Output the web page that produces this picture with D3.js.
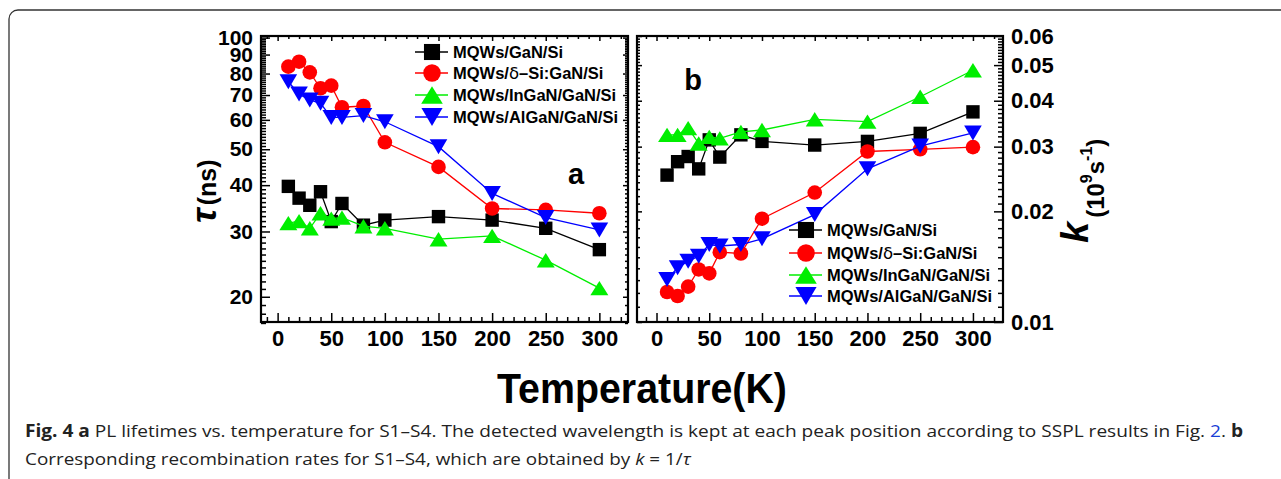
<!DOCTYPE html>
<html><head><meta charset="utf-8">
<script src="https://cdn.jsdelivr.net/npm/d3@7"></script>
<style>html,body{margin:0;padding:0;background:#fff;}svg{display:block;}</style>
</head><body>
<svg id="chart" width="1281" height="479"></svg>
<script>
// ---- data ----
const temps = [10, 20, 30, 40, 50, 60, 80, 100, 150, 200, 250, 300];
const seriesNames = ["MQWs/GaN/Si", "MQWs/δ–Si:GaN/Si", "MQWs/InGaN/GaN/Si", "MQWs/AlGaN/GaN/Si"];
const tauGaN    = [39.7, 36.9, 35.3, 38.4, 31.9, 35.7, 31.2, 32.2, 32.9, 32.2, 30.6, 26.8];
const tauDeltaSi= [83.5, 86.1, 80.6, 73.0, 74.2, 64.9, 65.4, 52.2, 44.8, 34.6, 34.3, 33.6];
const tauInGaN  = [31.6, 32.0, 30.6, 33.6, 32.5, 32.7, 31.0, 30.6, 28.6, 29.2, 25.1, 21.1];
const tauAlGaN  = [76.0, 70.4, 67.9, 66.5, 60.9, 60.9, 61.6, 59.3, 50.8, 38.0, 32.7, 30.3];
const kGaN      = [0.0251, 0.0273, 0.0282, 0.0261, 0.0313, 0.0281, 0.0323, 0.0310, 0.0303, 0.0310, 0.0326, 0.0373];
const kDeltaSi  = [0.01207, 0.01177, 0.01248, 0.0139, 0.01356, 0.01549, 0.01536, 0.0191, 0.0225, 0.0291, 0.0295, 0.0299];
const kInGaN    = [0.0323, 0.0323, 0.0337, 0.0306, 0.0319, 0.0316, 0.0329, 0.0333, 0.0356, 0.0351, 0.0410, 0.0484];
const kAlGaN    = [0.01306, 0.01405, 0.01464, 0.0151, 0.01625, 0.0161, 0.01625, 0.01684, 0.0196, 0.0261, 0.0301, 0.0327];
const xTickLabels = [0, 50, 100, 150, 200, 250, 300];
const tauTickLabels = [20, 30, 40, 50, 60, 70, 80, 90, 100];
const kTickLabels = [0.01, 0.02, 0.03, 0.04, 0.05, 0.06];

// ---- styles ----
const colors = ["#000000", "#ff0000", "#00ee00", "#0000ff"];
const shapes = ["square", "circle", "triangle", "invtriangle"];
const FONT = "'Liberation Sans', Arial, sans-serif";

const svg = d3.select("#chart");
svg.append("rect").attr("width", 1281).attr("height", 479).attr("fill", "#fff");
svg.append("rect").attr("x", 9).attr("y", 10).attr("width", 1300).attr("height", 520)
  .attr("rx", 9).attr("fill", "none").attr("stroke", "#333").attr("stroke-width", 1.3);

function markerPath(shape, s) {
  if (shape === "square") { const h = 6.7 * s; return `M${-h},${-h}H${h}V${h}H${-h}Z`; }
  if (shape === "circle") { return d3.symbol(d3.symbolCircle, Math.PI * (7.3 * s) ** 2)(); }
  if (shape === "triangle") { const w = 9 * s, h = 7.2 * s; return `M0,${-h}L${w},${h}L${-w},${h}Z`; }
  const w = 8.8 * s, h = 7.5 * s; return `M0,${h}L${w},${-h}L${-w},${-h}Z`;
}

function panel(x, y, ySide, yMajor, yMinor, yFmt, yFont) {
  const g = svg.append("g");
  const [x0, x1] = x.range(); const [y0, y1] = y.range();
  const xMinor = d3.range(-10, 330, 10).filter(v => v % 50 !== 0 && v >= x.domain()[0] && v <= x.domain()[1]);
  g.append("g").attr("transform", `translate(0,${y0})`)
    .call(d3.axisBottom(x).tickValues(xMinor).tickSize(-5).tickFormat(""));
  g.append("g").attr("transform", `translate(0,${y0})`)
    .call(d3.axisBottom(x).tickValues(xTickLabels).tickSize(-9).tickPadding(8).tickFormat(d3.format("d")))
    .call(a => a.selectAll("text").attr("font-size", 22).attr("font-weight", "bold").attr("font-family", FONT).attr("fill", "#000"));
  g.append("g").attr("transform", `translate(0,${y1})`)
    .call(d3.axisTop(x).tickValues(xMinor).tickSize(-3).tickFormat(""));
  g.append("g").attr("transform", `translate(0,${y1})`)
    .call(d3.axisTop(x).tickValues(xTickLabels).tickSize(-5).tickFormat(""));
  const main = ySide === "left" ? x0 : x1, mirror = ySide === "left" ? x1 : x0;
  const axMain = ySide === "left" ? d3.axisLeft : d3.axisRight;
  const axMirror = ySide === "left" ? d3.axisRight : d3.axisLeft;
  g.append("g").attr("transform", `translate(${main},0)`)
    .call(axMain(y).tickValues(yMinor).tickSize(-5).tickFormat(""));
  g.append("g").attr("transform", `translate(${main},0)`)
    .call(axMain(y).tickValues(yMajor).tickSize(-9).tickPadding(8).tickFormat(yFmt))
    .call(a => a.selectAll("text").attr("font-size", yFont).attr("font-weight", "bold").attr("font-family", FONT).attr("fill", "#000"));
  g.append("g").attr("transform", `translate(${mirror},0)`)
    .call(axMirror(y).tickValues(yMinor).tickSize(-3).tickFormat(""));
  g.append("g").attr("transform", `translate(${mirror},0)`)
    .call(axMirror(y).tickValues(yMajor).tickSize(-5).tickFormat(""));
  g.selectAll(".domain").remove();
  g.selectAll(".tick line").attr("stroke", "#000").attr("stroke-width", 1.5);
  g.append("rect").attr("x", x0).attr("y", y1).attr("width", x1 - x0).attr("height", y0 - y1)
    .attr("fill", "none").attr("stroke", "#000").attr("stroke-width", 2.2);
  return g;
}

function drawSeries(g, x, y, valuesList) {
  const line = d3.line().x(d => x(d[0])).y(d => y(d[1]));
  valuesList.forEach((vals, i) => {
    const pts = temps.map((t, j) => [t, vals[j]]);
    g.append("path").attr("d", line(pts)).attr("fill", "none").attr("stroke", colors[i]).attr("stroke-width", 1.3);
    g.selectAll(null).data(pts).enter().append("path")
      .attr("d", markerPath(shapes[i], 1))
      .attr("transform", d => `translate(${x(d[0])},${y(d[1])})`)
      .attr("fill", colors[i]);
  });
}

function legend(g, lx, rows) {
  seriesNames.forEach((name, i) => {
    const yy = rows[i];
    g.append("line").attr("x1", lx).attr("x2", lx + 33).attr("y1", yy).attr("y2", yy)
      .attr("stroke", colors[i]).attr("stroke-width", 1.3);
    g.append("path").attr("d", markerPath(shapes[i], 1.2)).attr("transform", `translate(${lx + 17},${yy})`).attr("fill", colors[i]);
    const t = g.append("text").attr("x", lx + 38).attr("y", yy + 6).attr("font-family", FONT)
      .attr("font-size", 16.5).attr("font-weight", "bold").attr("fill", "#000");
    if (name.includes("δ")) {
      const parts = name.split("δ");
      t.append("tspan").text(parts[0]);
      t.append("tspan").attr("font-weight", "normal").attr("font-family", "'DejaVu Sans', sans-serif").text("δ");
      t.append("tspan").text(parts[1]);
    } else t.text(name);
  });
}

// ---- left panel ----
const xL = d3.scaleLinear().domain([-15.5, 326.7]).range([261, 628]);
const yL = d3.scaleLog().domain([17.1, 101]).range([322, 36]);
const tauMinor = d3.range(17, 101, 1).filter(v => v % 10 !== 0);
const gL = panel(xL, yL, "left", tauTickLabels, tauMinor, d3.format("d"), 21);
drawSeries(gL, xL, yL, [tauGaN, tauDeltaSi, tauInGaN, tauAlGaN]);
legend(gL, 415, [52, 73, 95, 117]);
gL.append("text").attr("x", 576).attr("y", 184).attr("text-anchor", "middle").attr("font-family", FONT)
  .attr("font-size", 29).attr("font-weight", "bold").text("a");

// ---- right panel ----
const xR = d3.scaleLinear().domain([-18.5, 328.5]).range([637, 1003]);
const yR = d3.scaleLog().domain([0.01, 0.06]).range([322, 36]);
const kMinor = d3.range(11, 60, 1).filter(v => v % 10 !== 0).map(v => v / 1000);
const gR = panel(xR, yR, "right", kTickLabels, kMinor, d3.format(".2f"), 22);
drawSeries(gR, xR, yR, [kGaN, kDeltaSi, kInGaN, kAlGaN]);
legend(gR, 789, [230, 253, 275, 296]);
gR.append("text").attr("x", 693).attr("y", 90).attr("text-anchor", "middle").attr("font-family", FONT)
  .attr("font-size", 29).attr("font-weight", "bold").text("b");

// ---- axis titles ----
const tauT = svg.append("text").attr("transform", "translate(216,223) rotate(-90)")
  .attr("font-family", FONT).attr("font-weight", "bold").attr("fill", "#000");
tauT.append("tspan").attr("font-size", 36).attr("font-style", "italic").text("τ");
tauT.append("tspan").attr("font-size", 25).attr("dx", 3).text("(ns)");

const kT = svg.append("text").attr("transform", "translate(1088,243) rotate(-90)")
  .attr("font-family", FONT).attr("font-weight", "bold").attr("fill", "#000");
kT.append("tspan").attr("font-size", 38).attr("font-style", "italic").text("k");
kT.append("tspan").attr("font-size", 24).attr("dx", 4).attr("dy", 16).text("(10");
kT.append("tspan").attr("font-size", 16).attr("dy", -12).text("9");
kT.append("tspan").attr("font-size", 24).attr("dy", 12).text("s");
kT.append("tspan").attr("font-size", 16).attr("dy", -12).text("-1");
kT.append("tspan").attr("font-size", 24).attr("dy", 12).text(")");

function fitText(sel, x0, width) {
  const w = sel.node().getComputedTextLength();
  sel.attr("transform", `translate(${x0},0) scale(${width / w},1) translate(${-x0},0)`);
}
const xt = svg.append("text").attr("x", 497).attr("y", 403).attr("font-family", FONT)
  .attr("font-size", 43).attr("font-weight", "bold").text("Temperature(K)");
fitText(xt, 497, 290);

// ---- caption ----
const CAP = "'Open Sans', 'Liberation Sans', sans-serif";
const c1 = svg.append("text").attr("x", 25).attr("y", 437).attr("font-family", CAP).attr("font-size", 17).attr("fill", "#222");
c1.append("tspan").attr("font-weight", "bold").text("Fig. 4 a");
c1.append("tspan").text(" PL lifetimes vs. temperature for S1–S4. The detected wavelength is kept at each peak position according to SSPL results in Fig. ");
c1.append("tspan").attr("fill", "#1a3fd6").text("2");
c1.append("tspan").text(". ");
c1.append("tspan").attr("font-weight", "bold").text("b");
fitText(c1, 25, 1219);
const c2 = svg.append("text").attr("x", 25).attr("y", 465).attr("font-family", CAP).attr("font-size", 17).attr("fill", "#222");
c2.append("tspan").text("Corresponding recombination rates for S1–S4, which are obtained by ");
c2.append("tspan").attr("font-style", "italic").text("k");
c2.append("tspan").text(" = 1/");
c2.append("tspan").attr("font-style", "italic").text("τ");
fitText(c2, 25, 666);
</script>
</body></html>
